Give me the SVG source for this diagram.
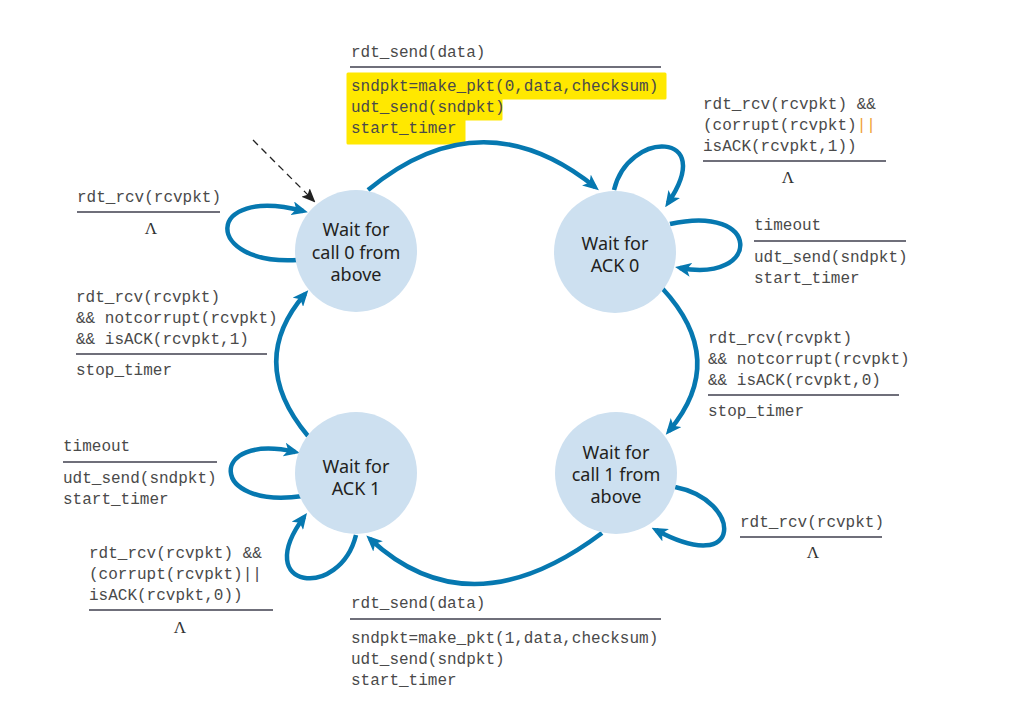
<svg xmlns="http://www.w3.org/2000/svg" width="1017" height="701" viewBox="0 0 1017 701">
<style>
.node circle{fill:#cde0f0;}
.node text{font-family:"Noto Sans","Open Sans",sans-serif;font-size:18px;fill:#231f20;text-anchor:middle;}
.lbl text{font-family:"Liberation Mono","Courier New",monospace;font-size:16px;fill:#4a4a4a;}
.lbl .lam{font-family:"Liberation Serif","Times New Roman",serif;font-size:17px;fill:#333;text-anchor:middle;}
.lbl line{stroke:#3f3f4e;stroke-width:1.5;}
.or{fill:#f0a030;}
.edge{fill:none;stroke:#0678b0;stroke-width:4.5;marker-end:url(#ah);}
</style>
<defs>
<marker id="ah" markerUnits="userSpaceOnUse" viewBox="0 0 16 14" markerWidth="16" markerHeight="14" refX="11" refY="7" orient="auto">
<path d="M0,0 L16,7 L0,14 L4,7 z" fill="#0678b0"/>
</marker>
<marker id="ahk" markerUnits="userSpaceOnUse" viewBox="0 0 14 12" markerWidth="14" markerHeight="12" refX="12" refY="6" orient="auto">
<path d="M0,0 L14,6 L0,12 L3,6 z" fill="#222"/>
</marker>
</defs>
<rect width="1017" height="701" fill="#fff"/>

<path id="highlight" d="M348,74 L665,74 L665,98 L501,98 L501,119 L464,119 L464,143 L348,143 z" fill="#ffe800" stroke="#ffe800" stroke-width="3" stroke-linejoin="round"/>

<g id="connectors">
<path class="edge" d="M368,190 Q482,96 595,187"/>
<path class="edge" d="M662,288 Q729,360 669,431"/>
<path class="edge" d="M602,533 Q470,632 370,539"/>
<path class="edge" d="M308,436 Q246,362 305,294"/>
<path class="edge" d="M298,260 C203,266 203,185 303,211"/>
<path class="edge" d="M614,190 C628,130 718,130 668,203"/>
<path class="edge" d="M670,224 C762,203 762,283 680,268"/>
<path class="edge" d="M675,487 C742,500 745,578 656,530"/>
<path class="edge" d="M303,496 C208,510 208,432 295,452"/>
<path class="edge" d="M356,535 C340,600 250,590 304,517"/>
<path d="M253,140 L314,201" fill="none" stroke="#222" stroke-width="1.3" stroke-dasharray="7,5" marker-end="url(#ahk)"/>
</g>

<g id="n0" class="node">
<circle cx="356" cy="251" r="61"/>
<text x="356" y="236">Wait for</text>
<text x="356" y="259">call 0 from</text>
<text x="356" y="281">above</text>
</g>
<g id="n1" class="node">
<circle cx="615" cy="252" r="61"/>
<text x="615" y="250">Wait for</text>
<text x="615" y="272">ACK 0</text>
</g>
<g id="n2" class="node">
<circle cx="356" cy="473" r="61"/>
<text x="356" y="473">Wait for</text>
<text x="356" y="495">ACK 1</text>
</g>
<g id="n3" class="node">
<circle cx="616" cy="473" r="61"/>
<text x="616" y="459">Wait for</text>
<text x="616" y="481">call 1 from</text>
<text x="616" y="503">above</text>
</g>

<g id="lbl-top" class="lbl">
<text x="351" y="57">rdt_send(data)</text>
<line x1="350" y1="67" x2="661" y2="67"/>
<text x="351" y="91">sndpkt=make_pkt(0,data,checksum)</text>
<text x="351" y="112">udt_send(sndpkt)</text>
<text x="351" y="133">start_timer</text>
</g>
<g id="lbl-tr" class="lbl">
<text x="703" y="109">rdt_rcv(rcvpkt) &amp;&amp;</text>
<text x="703" y="130">(corrupt(rcvpkt)<tspan class="or">||</tspan></text>
<text x="703" y="151">isACK(rcvpkt,1))</text>
<line x1="703" y1="161" x2="886" y2="161"/>
<text class="lam" x="788" y="183">Λ</text>
</g>
<g id="lbl-tl" class="lbl">
<text x="77" y="202">rdt_rcv(rcvpkt)</text>
<line x1="77" y1="212" x2="220" y2="212"/>
<text class="lam" x="151" y="234">Λ</text>
</g>
<g id="lbl-r-timeout" class="lbl">
<text x="754" y="230">timeout</text>
<line x1="754" y1="241" x2="906" y2="241"/>
<text x="754" y="262">udt_send(sndpkt)</text>
<text x="754" y="283">start_timer</text>
</g>
<g id="lbl-left" class="lbl">
<text x="76" y="302">rdt_rcv(rcvpkt)</text>
<text x="76" y="323">&amp;&amp; notcorrupt(rcvpkt)</text>
<text x="76" y="344">&amp;&amp; isACK(rcvpkt,1)</text>
<line x1="76" y1="354" x2="267" y2="354"/>
<text x="76" y="375">stop_timer</text>
</g>
<g id="lbl-right" class="lbl">
<text x="708" y="343">rdt_rcv(rcvpkt)</text>
<text x="708" y="364">&amp;&amp; notcorrupt(rcvpkt)</text>
<text x="708" y="385">&amp;&amp; isACK(rcvpkt,0)</text>
<line x1="708" y1="395" x2="899" y2="395"/>
<text x="708" y="416">stop_timer</text>
</g>
<g id="lbl-bl-timeout" class="lbl">
<text x="63" y="451">timeout</text>
<line x1="63" y1="462" x2="217" y2="462"/>
<text x="63" y="483">udt_send(sndpkt)</text>
<text x="63" y="504">start_timer</text>
</g>
<g id="lbl-bl" class="lbl">
<text x="89" y="558">rdt_rcv(rcvpkt) &amp;&amp;</text>
<text x="89" y="579">(corrupt(rcvpkt)||</text>
<text x="89" y="600">isACK(rcvpkt,0))</text>
<line x1="89" y1="610" x2="273" y2="610"/>
<text class="lam" x="180" y="633">Λ</text>
</g>
<g id="lbl-br" class="lbl">
<text x="740" y="527">rdt_rcv(rcvpkt)</text>
<line x1="740" y1="537" x2="882" y2="537"/>
<text class="lam" x="813" y="558">Λ</text>
</g>
<g id="lbl-bottom" class="lbl">
<text x="351" y="608">rdt_send(data)</text>
<line x1="350" y1="619" x2="661" y2="619"/>
<text x="351" y="643">sndpkt=make_pkt(1,data,checksum)</text>
<text x="351" y="664">udt_send(sndpkt)</text>
<text x="351" y="685">start_timer</text>
</g>
</svg>
